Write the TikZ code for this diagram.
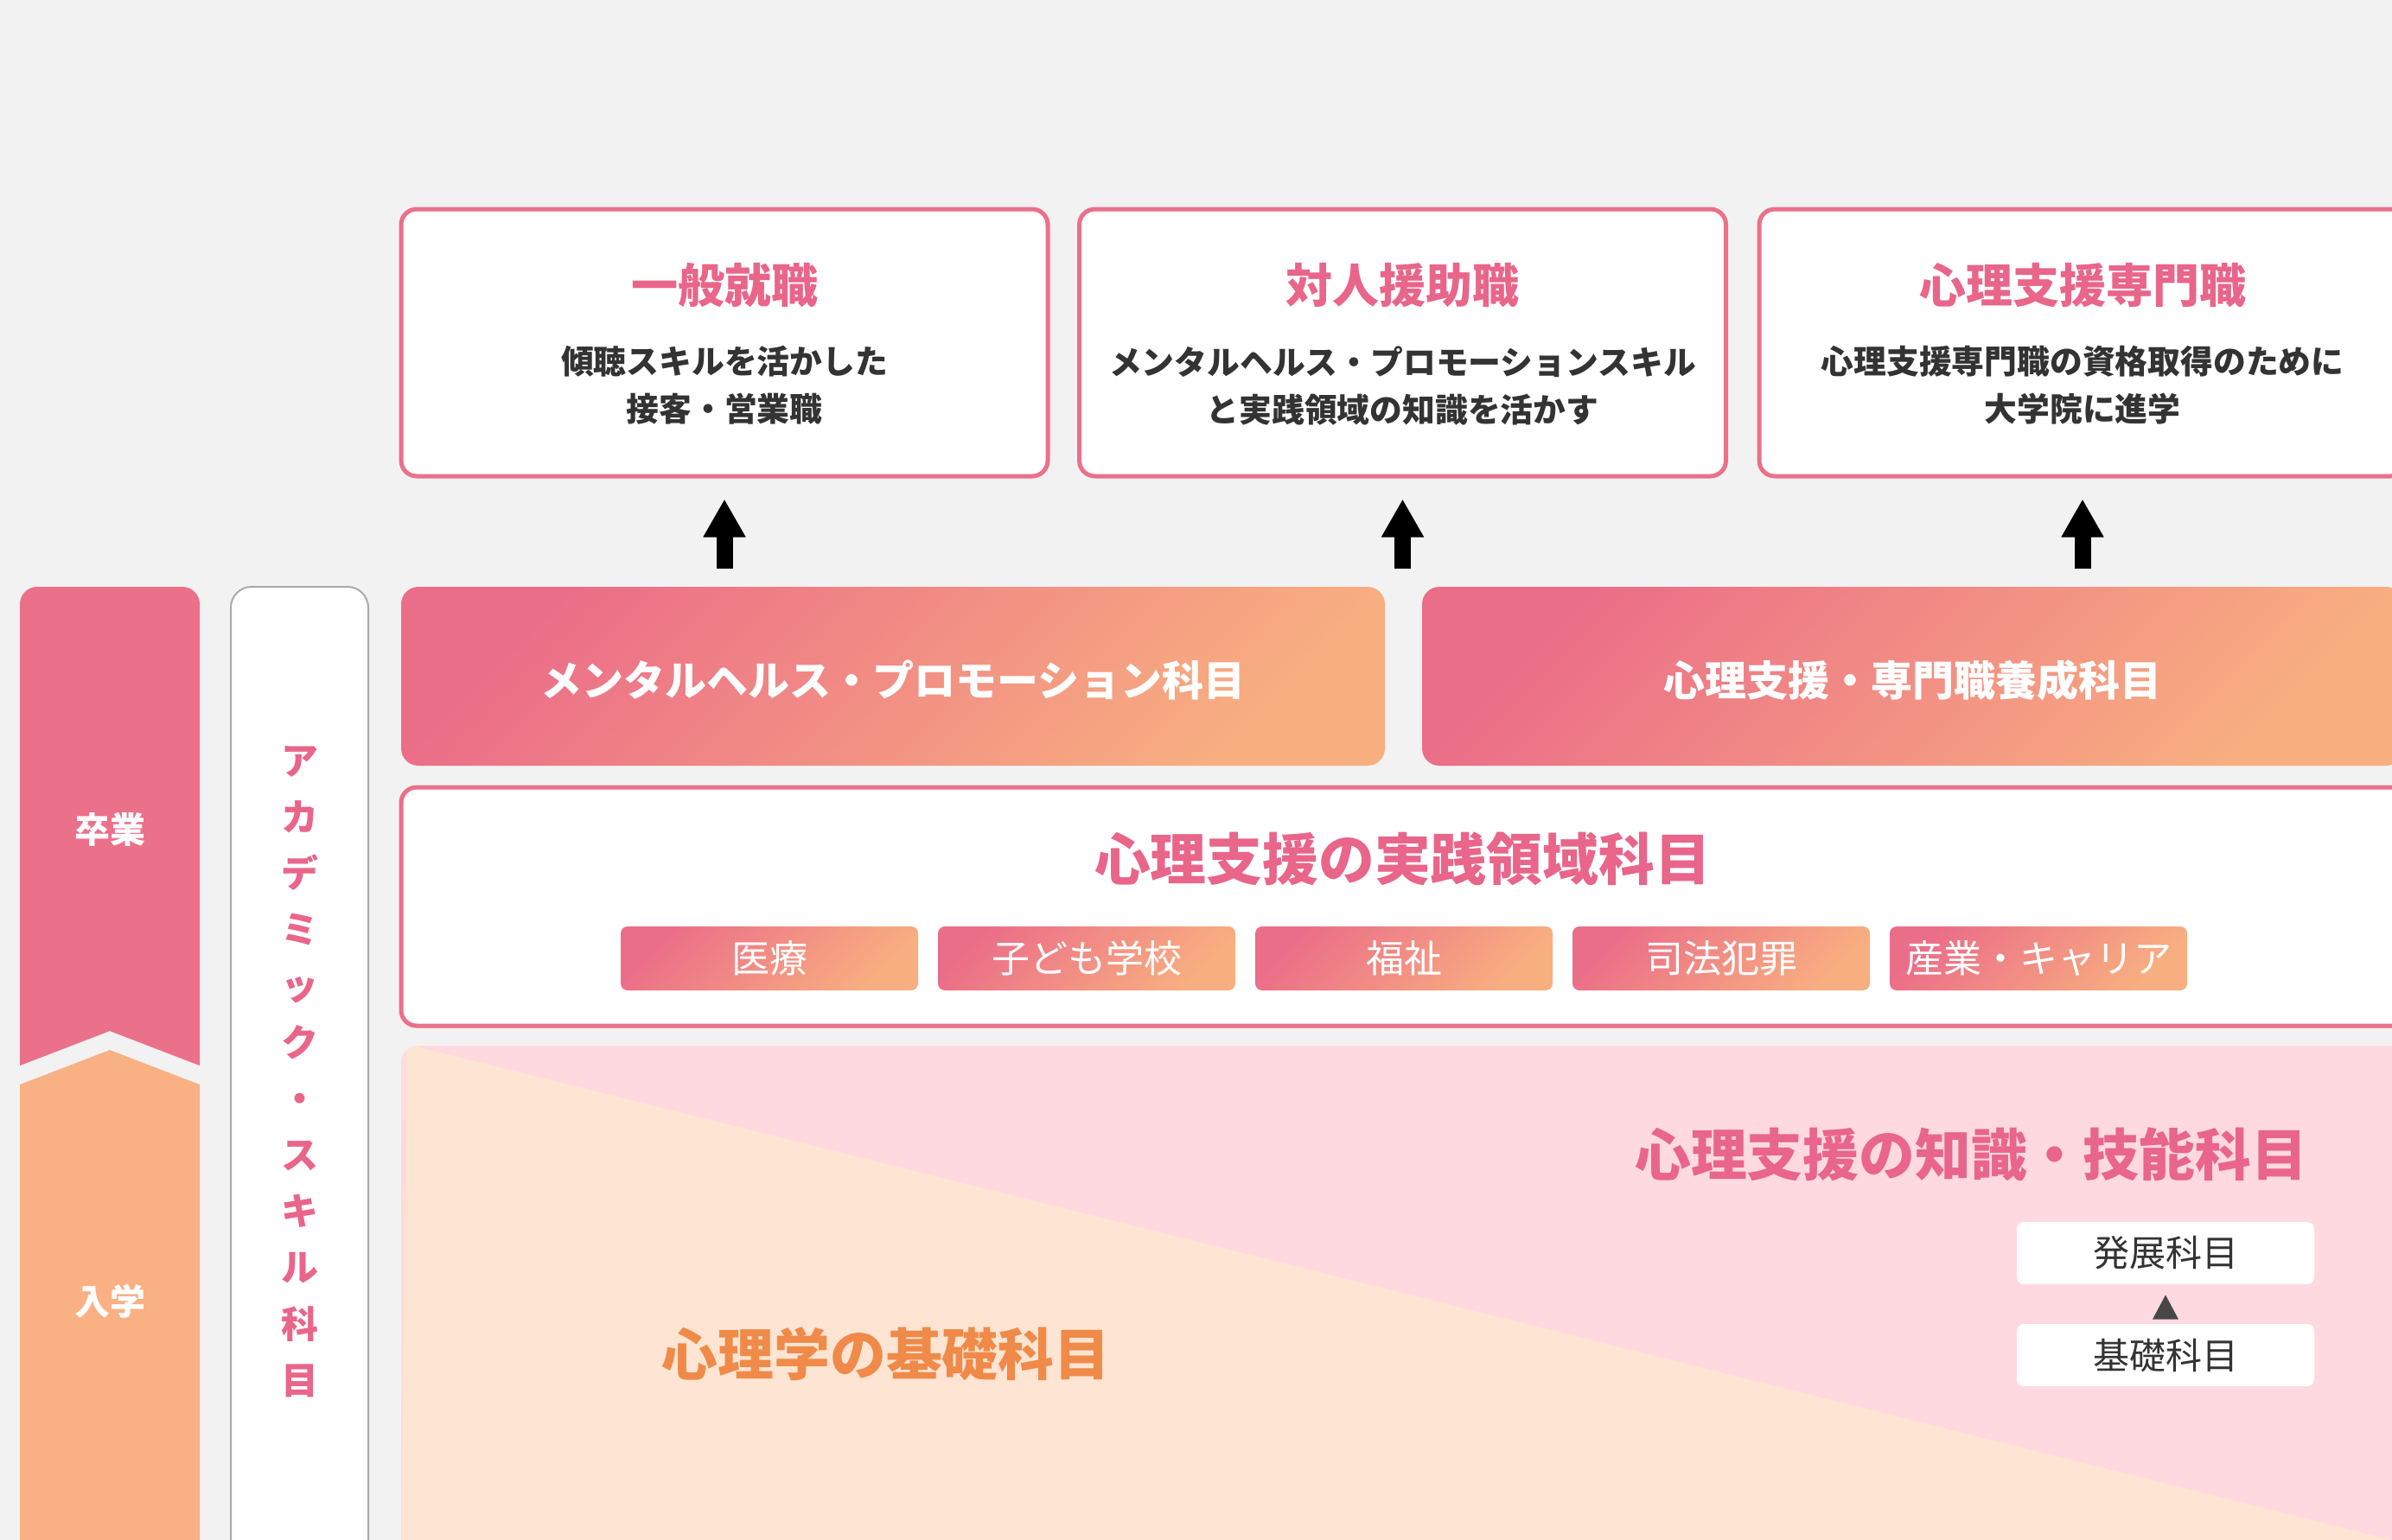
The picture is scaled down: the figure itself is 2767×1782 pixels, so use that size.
\documentclass[tikz,border=0pt]{standalone}
\usepackage{fontspec}
\setmainfont{Noto Sans CJK JP}
\usetikzlibrary{arrows.meta}
\definecolor{bgc}{HTML}{F2F2F2}
\definecolor{pk}{HTML}{EB7089}
\definecolor{pkt}{HTML}{E9658A}
\definecolor{orc}{HTML}{F9B083}
\definecolor{gra}{HTML}{EB6E88}
\definecolor{grb}{HTML}{F8AF80}
\definecolor{dk}{HTML}{333333}
\definecolor{peach}{HTML}{FEE4D2}
\definecolor{lpk}{HTML}{FED9E0}
\definecolor{ort}{HTML}{F08A48}
\definecolor{grayb}{HTML}{AAAAAA}
\tikzset{
  topbox/.style={draw=pk, line width=2.5pt, fill=white, rounded corners=9pt, minimum width=374pt, minimum height=154.5pt},
  gbar/.style={top color=gra, bottom color=grb, shading angle=45, rounded corners=10pt, minimum height=103.5pt},
  tagbox/.style={top color=gra, bottom color=grb, shading angle=45, rounded corners=4pt, minimum width=172pt, minimum height=37pt, text=white, font=\fontsize{22pt}{26pt}\selectfont},
  smallbox/.style={fill=white, rounded corners=4pt, minimum width=172pt, minimum height=36pt, text=dk, font=\fontsize{21pt}{25pt}\selectfont},
  ttl/.style={text=pkt, font=\bfseries\fontsize{27pt}{32pt}\selectfont},
  sub/.style={text=dk, align=center, font=\bfseries\fontsize{18.9pt}{27.5pt}\selectfont},
  bartxt/.style={text=white, font=\bfseries\fontsize{24pt}{28pt}\selectfont},
  bigttl/.style={font=\bfseries\fontsize{32.4pt}{38pt}\selectfont},
  sidetxt/.style={text=white, font=\bfseries\fontsize{20.5pt}{24pt}\selectfont},
  uparrow/.style={-{Triangle[length=22pt,width=23pt]}, line width=9.5pt, black}
}
\begin{document}
\begin{tikzpicture}[x=0.5pt,y=-0.5pt]
\fill[bgc] (0,0) rectangle (2767,1782);
\clip (0,0) rectangle (2767,1782);

% left column
\fill[pk] (23,1233) [rounded corners=10pt] -- (23,679) -- (231,679) [sharp corners] -- (231,1233) -- (127,1193) -- cycle;
\fill[orc] (23,1255) -- (127,1215) -- (231,1255) -- (231,1800) -- (23,1800) -- cycle;
\node[sidetxt] (grad) at (127,960) {卒業};
\node[sidetxt] (entr) at (127,1506) {入学};

% academic skill column
\draw[grayb, line width=1pt, fill=white, rounded corners=12pt] (267,679) rectangle (426,1820);
\node[text=pkt, align=center, font=\bfseries\fontsize{21.5pt}{32.6pt}\selectfont] (acad) at (347,1240)
  {ア\\カ\\デ\\ミ\\ッ\\ク\\・\\ス\\キ\\ル\\科\\目};

% top boxes
\node[topbox] (box1) at (838,396.5) {};
\node[topbox] (box2) at (1622.5,396.5) {};
\node[topbox] (box3) at (2409,396.5) {};
\node[ttl] (t1) at (838,330) {一般就職};
\node[ttl] (t2) at (1622.5,330) {対人援助職};
\node[ttl] (t3) at (2409,330) {心理支援専門職};
\node[sub] (s1) at (838,446) {傾聴スキルを活かした\\接客・営業職};
\node[sub] (s2) at (1622.5,446) {メンタルヘルス・プロモーションスキル\\と実践領域の知識を活かす};
\node[sub] (s3) at (2409,446) {心理支援専門職の資格取得のために\\大学院に進学};

% gradient bars
\node[gbar, minimum width=569pt] (bar1) at (1033,782.5) {};
\node[gbar, minimum width=567.5pt] (bar2) at (2212.5,782.5) {};
\node[bartxt] at (1033,787) {メンタルヘルス・プロモーション科目};
\node[bartxt] at (2212.5,787) {心理支援・専門職養成科目};

% arrows
\draw[uparrow, shorten <=10.5pt, shorten >=12pt] (box1.south |- bar1.north) -- (box1.south);
\draw[uparrow, shorten <=10.5pt, shorten >=12pt] (box2.south |- bar1.north) -- (box2.south);
\draw[uparrow, shorten <=10.5pt, shorten >=12pt] (box3.south |- bar2.north) -- (box3.south);

% practice box
\node[draw=pk, line width=2.5pt, fill=white, rounded corners=9pt, minimum width=1163pt, minimum height=138pt] (prac) at (1627,1049) {};
\node[bigttl, text=pkt] (pt) at (1622.5,994) {心理支援の実践領域科目};
\node[tagbox] (g1) at (890,1109) {医療};
\node[tagbox] (g2) at (1257,1109) {子ども学校};
\node[tagbox] (g3) at (1624,1109) {福祉};
\node[tagbox] (g4) at (1991,1109) {司法犯罪};
\node[tagbox] (g5) at (2358,1109) {産業・キャリア};

% bottom area
\begin{scope}
\clip[rounded corners=10pt] (464,1210) rectangle (2820,1900);
\fill[lpk] (464,1210) rectangle (2820,1900);
\fill[peach] (470,1208) -- (2767,1782) -- (2820,1900) -- (464,1900) -- cycle;
\end{scope}
\node[bigttl, text=pkt, anchor=east] (kt) at (2676,1336) {心理支援の知識・技能科目};
\node[bigttl, text=ort] (bt) at (1025,1567) {心理学の基礎科目};
\node[smallbox] (adv) at (2505,1450) {発展科目};
\node[smallbox] (bas) at (2505,1568) {基礎科目};
\fill[dk!90] ([yshift=-6pt]adv.south) -- ([xshift=-7.5pt,yshift=2.5pt]bas.north) -- ([xshift=7.5pt,yshift=2.5pt]bas.north) -- cycle;
\end{tikzpicture}
\end{document}
